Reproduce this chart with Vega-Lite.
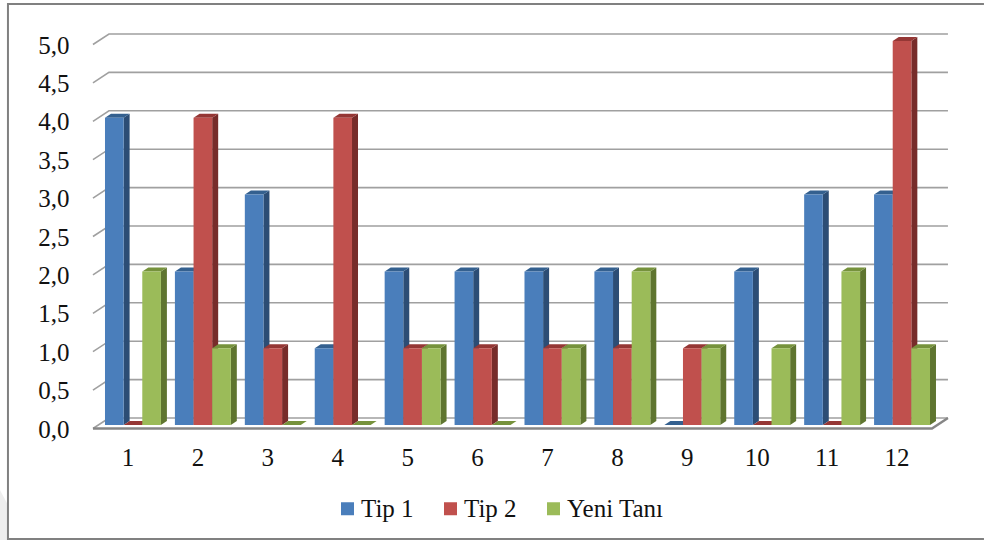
{
  "$schema": "https://vega.github.io/schema/vega-lite/v6.json",
  "width": 839,
  "height": 384,
  "autosize": {"type": "none"},
  "padding": {"left": 98, "top": 41, "right": 47, "bottom": 115},
  "background": "white",
  "config": {"view": {"stroke": null}, "axis": {"labelOverlap": false, "labelSeparation": 0, "labelBound": false}},
  "datasets": {
    "bars": [
      {"month": 1, "series": "Tip 1", "value": 4}, {"month": 1, "series": "Tip 2", "value": 0}, {"month": 1, "series": "Yeni Tanı", "value": 2},
      {"month": 2, "series": "Tip 1", "value": 2}, {"month": 2, "series": "Tip 2", "value": 4}, {"month": 2, "series": "Yeni Tanı", "value": 1},
      {"month": 3, "series": "Tip 1", "value": 3}, {"month": 3, "series": "Tip 2", "value": 1}, {"month": 3, "series": "Yeni Tanı", "value": 0},
      {"month": 4, "series": "Tip 1", "value": 1}, {"month": 4, "series": "Tip 2", "value": 4}, {"month": 4, "series": "Yeni Tanı", "value": 0},
      {"month": 5, "series": "Tip 1", "value": 2}, {"month": 5, "series": "Tip 2", "value": 1}, {"month": 5, "series": "Yeni Tanı", "value": 1},
      {"month": 6, "series": "Tip 1", "value": 2}, {"month": 6, "series": "Tip 2", "value": 1}, {"month": 6, "series": "Yeni Tanı", "value": 0},
      {"month": 7, "series": "Tip 1", "value": 2}, {"month": 7, "series": "Tip 2", "value": 1}, {"month": 7, "series": "Yeni Tanı", "value": 1},
      {"month": 8, "series": "Tip 1", "value": 2}, {"month": 8, "series": "Tip 2", "value": 1}, {"month": 8, "series": "Yeni Tanı", "value": 2},
      {"month": 9, "series": "Tip 1", "value": 0}, {"month": 9, "series": "Tip 2", "value": 1}, {"month": 9, "series": "Yeni Tanı", "value": 1},
      {"month": 10, "series": "Tip 1", "value": 2}, {"month": 10, "series": "Tip 2", "value": 0}, {"month": 10, "series": "Yeni Tanı", "value": 1},
      {"month": 11, "series": "Tip 1", "value": 3}, {"month": 11, "series": "Tip 2", "value": 0}, {"month": 11, "series": "Yeni Tanı", "value": 2},
      {"month": 12, "series": "Tip 1", "value": 3}, {"month": 12, "series": "Tip 2", "value": 5}, {"month": 12, "series": "Yeni Tanı", "value": 1}
    ],
    "ticks": [{"tick": 0}, {"tick": 0.5}, {"tick": 1}, {"tick": 1.5}, {"tick": 2}, {"tick": 2.5}, {"tick": 3}, {"tick": 3.5}, {"tick": 4}, {"tick": 4.5}, {"tick": 5}],
    "origin": [{"tick": 0}]
  },
  "layer": [
    {
      "description": "Back-wall gridlines with their slanted returns; also carries both axes",
      "data": {"name": "ticks"},
      "mark": {"type": "point", "shape": "M-40,3.5 L-24,-7 H815", "size": 4, "filled": false, "stroke": "#a0a0a0", "strokeWidth": 1.6, "opacity": 1},
      "encoding": {
        "x": {
          "datum": 1, "type": "ordinal",
          "scale": {"domain": [1, 2, 3, 4, 5, 6, 7, 8, 9, 10, 11, 12], "paddingInner": 0.2, "paddingOuter": 0.1},
          "axis": {"orient": "bottom", "title": null, "domain": false, "ticks": false, "labelAngle": 0, "labelAlign": "center", "labelFont": "Liberation Serif", "labelFontSize": 25, "labelColor": "#111111", "labelPadding": 20, "labelOffset": -5}
        },
        "y": {
          "field": "tick", "type": "quantitative",
          "scale": {"domain": [0, 5], "nice": false},
          "axis": {"title": null, "domain": false, "ticks": false, "grid": false, "tickCount": 11, "values": [0, 0.5, 1, 1.5, 2, 2.5, 3, 3.5, 4, 4.5, 5], "labelOverlap": false, "labelExpr": "replace(format(datum.value, '.1f'), '.', ',')", "labelFont": "Liberation Serif", "labelFontSize": 25, "labelColor": "#111111", "labelPadding": 29, "labelOffset": 4}
        }
      }
    },
    {
      "description": "Faint page corner outside the frame",
      "data": {"name": "origin"},
      "mark": {"type": "point", "shape": "M-133,65 L-125,80 V115 H-133 Z", "size": 4, "filled": true, "fill": "#eeeeee", "opacity": 1, "strokeWidth": 0},
      "encoding": {
        "x": {"datum": 1, "type": "ordinal"},
        "y": {"field": "tick", "type": "quantitative"}
      }
    },
    {
      "description": "Outer frame, open on the right",
      "data": {"name": "origin"},
      "mark": {"type": "point", "shape": "M851,-421 H-125 V114 H851", "size": 4, "filled": false, "stroke": "#808080", "strokeWidth": 2, "opacity": 1},
      "encoding": {
        "x": {"datum": 1, "type": "ordinal"},
        "y": {"field": "tick", "type": "quantitative"}
      }
    },
    {
      "description": "Front edge of the floor",
      "data": {"name": "origin"},
      "mark": {"type": "point", "shape": "M-40,3.5 H799 L815,-7", "size": 4, "filled": false, "stroke": "#868686", "strokeWidth": 2.4, "opacity": 1},
      "encoding": {
        "x": {"datum": 1, "type": "ordinal"},
        "y": {"field": "tick", "type": "quantitative"}
      }
    },
    {
      "description": "Right-hand side faces: one parallelogram per bar height, anchored on the floor",
      "data": {"name": "bars"},
      "transform": [{"filter": "datum.value > 0"}],
      "mark": {"type": "point", "size": 4, "filled": true, "opacity": 1, "strokeWidth": 0},
      "encoding": {
        "x": {"field": "month", "type": "ordinal"},
        "xOffset": {"field": "series", "type": "nominal", "sort": ["Tip 1", "Tip 2", "Yeni Tanı"], "scale": {"paddingInner": 0, "paddingOuter": 0}},
        "y": {"datum": 0, "type": "quantitative"},
        "shape": {
          "field": "value", "type": "ordinal", "legend": null,
          "scale": {
            "domain": [1, 2, 3, 4, 5],
            "range": [
              "M9.3,0 L15.3,-4 V-80.8 L9.3,-76.8 Z",
              "M9.3,0 L15.3,-4 V-157.6 L9.3,-153.6 Z",
              "M9.3,0 L15.3,-4 V-234.4 L9.3,-230.4 Z",
              "M9.3,0 L15.3,-4 V-311.2 L9.3,-307.2 Z",
              "M9.3,0 L15.3,-4 V-388 L9.3,-384 Z"
            ]
          }
        },
        "color": {"field": "series", "type": "nominal", "sort": ["Tip 1", "Tip 2", "Yeni Tanı"], "scale": {"domain": ["Tip 1", "Tip 2", "Yeni Tanı"], "range": ["#2c4d75", "#772c2a", "#5f7530"]}, "legend": null}
      }
    },
    {
      "description": "Top faces; zero-valued bars show only this flat slab",
      "data": {"name": "bars"},
      "mark": {"type": "point", "shape": "M-9.3,0 L-3.3,-4 H15.3 L9.3,0 Z", "size": 4, "filled": true, "opacity": 1, "strokeWidth": 0},
      "encoding": {
        "x": {"field": "month", "type": "ordinal"},
        "xOffset": {"field": "series", "type": "nominal", "sort": ["Tip 1", "Tip 2", "Yeni Tanı"], "scale": {"paddingInner": 0, "paddingOuter": 0}},
        "y": {"field": "value", "type": "quantitative"},
        "color": {"field": "series", "type": "nominal", "sort": ["Tip 1", "Tip 2", "Yeni Tanı"], "scale": {"domain": ["Tip 1", "Tip 2", "Yeni Tanı"], "range": ["#34608f", "#953735", "#76923c"]}, "legend": null}
      }
    },
    {
      "description": "Front faces of the bars, with the legend",
      "data": {"name": "bars"},
      "mark": {"type": "bar"},
      "encoding": {
        "x": {"field": "month", "type": "ordinal"},
        "xOffset": {"field": "series", "type": "nominal", "sort": ["Tip 1", "Tip 2", "Yeni Tanı"], "scale": {"paddingInner": 0, "paddingOuter": 0}},
        "y": {"field": "value", "type": "quantitative"},
        "color": {
          "field": "series", "type": "nominal", "sort": ["Tip 1", "Tip 2", "Yeni Tanı"],
          "scale": {"domain": ["Tip 1", "Tip 2", "Yeni Tanı"], "range": ["#4a7ebb", "#c0504d", "#9bbb59"]},
          "legend": {"orient": "none", "legendX": 237, "legendY": 455, "direction": "horizontal", "columns": 3, "title": null, "symbolType": "square", "symbolSize": 169, "symbolStrokeWidth": 0, "labelFont": "Liberation Serif", "labelFontSize": 25, "labelColor": "#111111", "columnPadding": 24, "labelOffset": 1}
        }
      }
    }
  ],
  "resolve": {"scale": {"color": "independent"}}
}
